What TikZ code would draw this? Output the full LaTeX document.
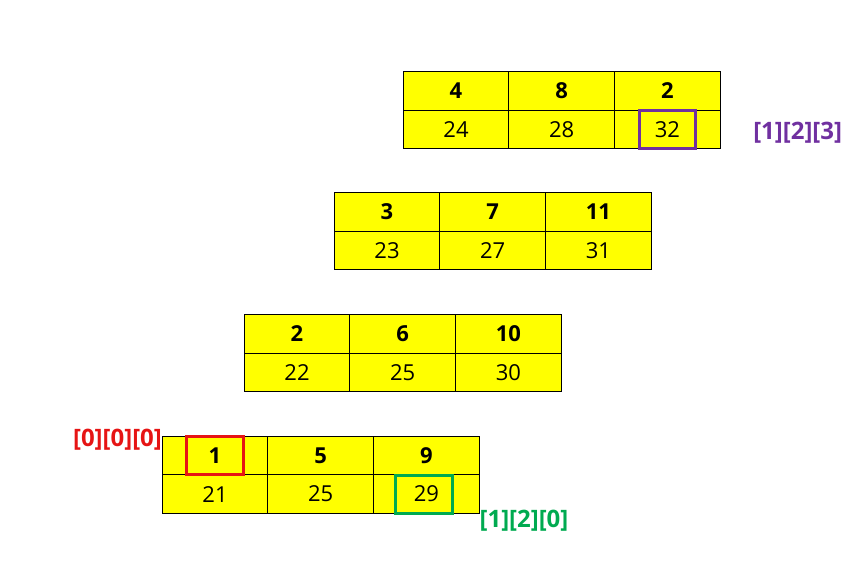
\documentclass[tikz,border=0pt]{standalone}
\usepackage{fontspec}
\setmainfont{Open Sans}
\usepackage{tikz}
\usetikzlibrary{positioning}

\definecolor{cellyellow}{RGB}{255,255,0}
\definecolor{hlred}{RGB}{230,20,20}
\definecolor{hlgreen}{RGB}{0,170,80}
\definecolor{hlpurple}{RGB}{112,48,160}

\begin{document}
\begin{tikzpicture}
		[x=0.75pt, y=-0.75pt,
		cell/.style={draw=black, line width=0.8pt, fill=cellyellow, minimum width=79.3pt, minimum height=28.9pt, inner sep=0pt, outer sep=0pt, node distance=0pt, font=\fontsize{16.5}{18}\selectfont},
		head/.style={cell, font=\fontsize{16.5}{18}\selectfont\bfseries},
		markbox/.style={draw, line width=2.3pt, minimum width=42.5pt, minimum height=28.5pt, inner sep=0pt},
		index/.style={inner sep=0pt, font=\fontsize{18}{20}\selectfont\bfseries}]
		\useasboundingbox (0,0) rectangle (868,562);

		% layer 0
		\node[head] (z0r0c0) at (215,455.5) {1};
		\node[head, right=of z0r0c0] (z0r0c1) {5};
		\node[head, right=of z0r0c1] (z0r0c2) {9};
		\node[cell, below=of z0r0c0] (z0r1c0) {21};
		\node[cell, right=of z0r1c0] (z0r1c1) {25};
		\node[cell, right=of z0r1c1] (z0r1c2) {29};

		% layer 1
		\node[head] (z1r0c0) at (297,334) {2};
		\node[head, right=of z1r0c0] (z1r0c1) {6};
		\node[head, right=of z1r0c1] (z1r0c2) {10};
		\node[cell, below=of z1r0c0] (z1r1c0) {22};
		\node[cell, right=of z1r1c0] (z1r1c1) {25};
		\node[cell, right=of z1r1c1] (z1r1c2) {30};

		% layer 2
		\node[head] (z2r0c0) at (387,212) {3};
		\node[head, right=of z2r0c0] (z2r0c1) {7};
		\node[head, right=of z2r0c1] (z2r0c2) {11};
		\node[cell, below=of z2r0c0] (z2r1c0) {23};
		\node[cell, right=of z2r1c0] (z2r1c1) {27};
		\node[cell, right=of z2r1c1] (z2r1c2) {31};

		% layer 3
		\node[head] (z3r0c0) at (456,91) {4};
		\node[head, right=of z3r0c0] (z3r0c1) {8};
		\node[head, right=of z3r0c1] (z3r0c2) {2};
		\node[cell, below=of z3r0c0] (z3r1c0) {24};
		\node[cell, right=of z3r1c0] (z3r1c1) {28};
		\node[cell, right=of z3r1c1] (z3r1c2) {32};

		% highlighted elements
		\node[markbox, hlred] (m000) at (z0r0c0) {};
		\node[markbox, hlgreen] (m120) at ([xshift=-2]z0r1c2) {};
		\node[markbox, hlpurple] (m123) at (z3r1c2) {};

		\node[index, hlred, anchor=east] (i000) at ([yshift=-2.5]z0r0c0.north west) {[0][0][0]};
		\node[index, hlgreen, anchor=west] (i120) at ([xshift=0, yshift=-5.5]z0r1c2.south east) {[1][2][0]};
		\node[index, hlpurple, anchor=west] (i123) at ([xshift=24.5, yshift=-2.5]z3r1c2.east) {[1][2][3]};
	\end{tikzpicture}
\end{document}
